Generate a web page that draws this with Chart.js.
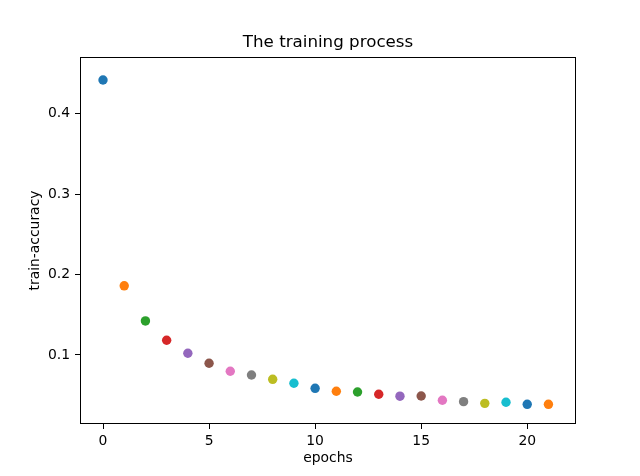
<!DOCTYPE html>
<html>
<head>
<meta charset="utf-8">
<script src="https://cdn.jsdelivr.net/npm/chart.js@4/dist/chart.umd.min.js"></script>
<style>
html,body{margin:0;padding:0;background:#fff;}
canvas{display:block;}
</style>
</head>
<body>
<canvas id="c" width="640" height="476"></canvas>
<script>
const epochs = [0,1,2,3,4,5,6,7,8,9,10,11,12,13,14,15,16,17,18,19,20,21];
const trainAccuracy = [0.442,0.186,0.1423,0.1183,0.1021,0.0897,0.0797,0.0751,0.0697,0.0648,0.0585,0.0548,0.0539,0.0511,0.0487,0.0489,0.0436,0.0419,0.0398,0.0411,0.0386,0.0386];
const xTicks = [0,5,10,15,20];
const yTicks = [0.1,0.2,0.3,0.4];
const palette = ['#1f77b4','#ff7f0e','#2ca02c','#d62728','#9467bd','#8c564b','#e377c2','#7f7f7f','#bcbd22','#17becf'];
const pointColors = epochs.map((e,i)=>palette[i % palette.length]);

const FONT = 'DejaVu Sans';
const frame = {
  id:'frame',
  afterDatasetsDraw(chart){
    const {ctx, chartArea:a} = chart;
    ctx.save();
    ctx.strokeStyle='#000';
    ctx.lineWidth=1;
    ctx.strokeRect(Math.round(a.left)+0.5, Math.round(a.top)+0.5, Math.round(a.right-a.left)-1, Math.round(a.bottom-a.top)-1);
    ctx.restore();
  }
};

new Chart(document.getElementById('c'), {
  type:'scatter',
  data:{
    datasets:[{
      label:'train-accuracy',
      data: epochs.map((e,i)=>({x:e, y:trainAccuracy[i]})),
      backgroundColor: pointColors,
      borderColor: pointColors,
      borderWidth:0,
      pointRadius:4.7,
      pointHoverRadius:4.7
    }]
  },
  options:{
    responsive:false,
    animation:false,
    devicePixelRatio:1,
    layout:{padding:{left:0,right:64,top:0,bottom:0}},
    plugins:{
      legend:{display:false},
      tooltip:{enabled:false},
      title:{
        display:true,
        fullSize:false,
        text:'The training process',
        color:'#000',
        font:{family:FONT,size:16.7,weight:'normal',lineHeight:1.2},
        padding:{top:33,bottom:4}
      }
    },
    scales:{
      x:{
        type:'linear',
        min:-1.085,
        max:22.3,
        afterBuildTicks(s){ s.ticks = xTicks.map(v=>({value:v})); },
        afterFit(s){ s.height = 52; },
        grid:{display:true,drawOnChartArea:false,drawTicks:true,tickLength:5,color:'#000',lineWidth:1},
        border:{display:false},
        ticks:{color:'#000',font:{family:FONT,size:13.9},padding:4,maxRotation:0,callback:v=>String(v)},
        title:{display:true,text:'epochs',color:'#000',font:{family:FONT,size:13.9,lineHeight:1.2},padding:{top:0,bottom:9}}
      },
      y:{
        type:'linear',
        min:0.0141,
        max:0.4706,
        afterBuildTicks(s){ s.ticks = yTicks.map(v=>({value:v})); },
        afterFit(s){ s.width = 80; },
        grid:{display:true,drawOnChartArea:false,drawTicks:true,tickLength:5,color:'#000',lineWidth:1},
        border:{display:false},
        ticks:{color:'#000',font:{family:FONT,size:13.9},padding:5,callback:v=>v.toFixed(1)},
        title:{display:true,text:'train-accuracy',color:'#000',font:{family:FONT,size:13.9,lineHeight:1.2},padding:{top:27,bottom:0}}
      }
    }
  },
  plugins:[frame]
});
</script>
</body>
</html>
